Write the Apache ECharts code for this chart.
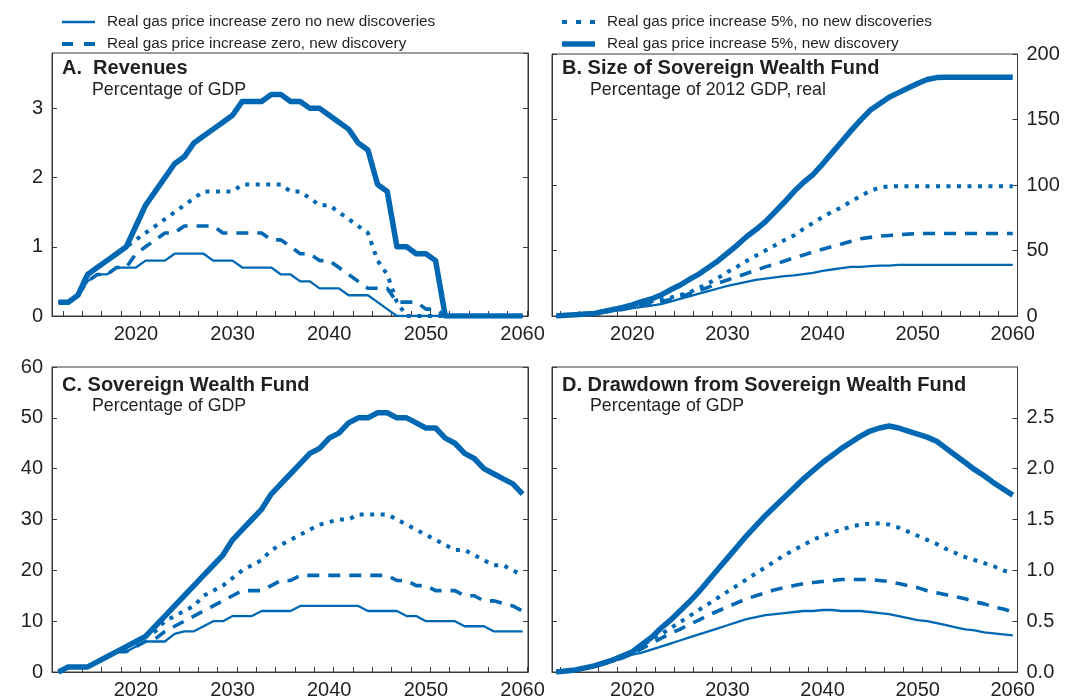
<!DOCTYPE html>
<html><head><meta charset="utf-8">
<script src="https://cdn.jsdelivr.net/npm/echarts@6/dist/echarts.min.js"></script>
<style>html,body{margin:0;padding:0;background:#fff}#c{width:1073px;height:700px}</style>
</head><body><div id="c"></div>
<script>
const years = [2012,2013,2014,2015,2016,2017,2018,2019,2020,2021,2022,2023,2024,2025,2026,2027,2028,2029,2030,2031,2032,2033,2034,2035,2036,2037,2038,2039,2040,2041,2042,2043,2044,2045,2046,2047,2048,2049,2050,2051,2052,2053,2054,2055,2056,2057,2058,2059,2060];
const xLabelYears = [2020,2030,2040,2050,2060];
const seriesNames = [
  'Real gas price increase zero no new discoveries',
  'Real gas price increase zero, new discovery',
  'Real gas price increase 5%, no new discoveries',
  'Real gas price increase 5%, new discovery'
];
const panelTitles = ['A.  Revenues','B. Size of Sovereign Wealth Fund','C. Sovereign Wealth Fund','D. Drawdown from Sovereign Wealth Fund'];
const panelSubtitles = ['Percentage of GDP','Percentage of 2012 GDP, real','Percentage of GDP','Percentage of GDP'];

// Panel A: Revenues, % of GDP
const revZeroNoNew = [0.2,0.2,0.3,0.5,0.6,0.6,0.7,0.7,0.7,0.8, 0.8,0.8,0.9,0.9,0.9,0.9,0.8,0.8,0.8,0.7, 0.7,0.7,0.7,0.6,0.6,0.5,0.5,0.4,0.4,0.4, 0.3,0.3,0.3,0.2,0.1,0,0,0,0,0, 0,0,0,0,0,0,0,0,0];
const revZeroNew   = [0.2,0.2,0.3,0.5,0.6,0.6,0.7,0.7,0.9,1.0, 1.1,1.2,1.2,1.3,1.3,1.3,1.3,1.2,1.2,1.2, 1.2,1.2,1.1,1.1,1.0,0.9,0.9,0.8,0.8,0.7, 0.6,0.5,0.4,0.4,0.4,0.2,0.2,0.2,0.1,0.1, 0,0,0,0,0,0,0,0,0];
const rev5NoNew    = [0.2,0.2,0.3,0.6,0.7,0.8,0.9,1.0,1.1,1.2, 1.3,1.4,1.5,1.6,1.7,1.8,1.8,1.8,1.8,1.9, 1.9,1.9,1.9,1.9,1.8,1.8,1.7,1.6,1.6,1.5, 1.4,1.3,1.2,0.8,0.6,0.2,0,0,0,0, 0,0,0,0,0,0,0,0,0];
const rev5New      = [0.2,0.2,0.3,0.6,0.7,0.8,0.9,1.0,1.3,1.6, 1.8,2.0,2.2,2.3,2.5,2.6,2.7,2.8,2.9,3.1, 3.1,3.1,3.2,3.2,3.1,3.1,3.0,3.0,2.9,2.8, 2.7,2.5,2.4,1.9,1.8,1.0,1.0,0.9,0.9,0.8, 0,0,0,0,0,0,0,0,0];

// Panel B: Size of SWF, % of 2012 GDP, real
const sizeZeroNoNew = [0,0.5,1,1.5,2,3,4,5,6,7, 8,9,11,13,15,17,19,21,23,24.5, 26,27.5,28.5,29.5,30.5,31,32,33,34.5,35.5, 36.5,37.5,37.5,38,38.5,38.5,39,39,39,39, 39,39,39,39,39,39,39,39,39];
const sizeZeroNew   = [0,0.5,1,1.5,2,3,4,5,6.5,8, 9.5,11,12.5,14.5,17,19.5,22,25,27.5,30, 32.5,35,37.5,39.5,42,44.5,46.5,49,51,53, 55,57,59,60,61,61.5,62,62.5,63,63, 63,63,63,63,63,63,63,63,63];
const size5NoNew    = [0,0.5,1,1.5,2,3.5,5,6.5,8,9.5, 11,12.5,14,16,18,21.5,25,29,33.5,37.5, 42,46,50,54,58,61.5,66.5,71,75.5,79.5, 83,87.5,91.5,95.5,98,99,99,99,99,99, 99,99,99,99,99,99,99,99,99];
const size5New      = [0,0.5,1,1.5,2,3.5,5,6.5,8.5,11, 13,16,20,23.5,28,32,37,42,48,54, 60.5,66,72,79.5,87,95,102,108,116,124.5, 133,141.5,149.5,157,162,167,170.5,174,177.5,180.5, 182,182.3,182.3,182.3,182.3,182.3,182.3,182.3,182.3];

// Panel C: SWF, % of GDP
const swfZeroNoNew = [0,1,1,1,2,3,4,4,5,6, 6,6,7.5,8,8,9,10,10,11,11, 11,12,12,12,12,13,13,13,13,13, 13,13,12,12,12,12,11,11,10,10, 10,10,9,9,9,8,8,8,8];
const swfZeroNew   = [0,1,1,1,2,3,4,4,5,6, 6.5,8,9,10,11,12,13,14,15,16, 16,16,17,18,18,19,19,19,19,19, 19,19,19,19,19,18,18,17,17,16, 16,16,15,15,14,14,13.5,13,12];
const swf5NoNew    = [0,1,1,1,2,3,4,5,6,7, 8,10,11,12,13,15,16,17,18.5,20, 21,22,24,25,26,27,28,29,29.5,30, 30,31,31,31,31,30,29,28,27,26, 25,24,24,23,22,21,21,20,19];
const swf5New      = [0,1,1,1,2,3,4,5,6,7, 9,11,13,15,17,19,21,23,26,28, 30,32,35,37,39,41,43,44,46,47, 49,50,50,51,51,50,50,49,48,48, 46,45,43,42,40,39,38,37,35];

// Panel D: Drawdown from SWF, % of GDP
const drawZeroNoNew = [0,0.01,0.02,0.04,0.06,0.08,0.11,0.14,0.17,0.19, 0.22,0.25,0.28,0.31,0.34,0.37,0.4,0.43,0.46,0.49, 0.52,0.54,0.56,0.57,0.58,0.59,0.6,0.6,0.61,0.61, 0.6,0.6,0.6,0.59,0.58,0.57,0.55,0.53,0.51,0.5, 0.48,0.46,0.44,0.42,0.41,0.39,0.38,0.37,0.36];
const drawZeroNew   = [0,0.01,0.02,0.04,0.06,0.08,0.11,0.14,0.18,0.23, 0.28,0.33,0.38,0.42,0.47,0.51,0.56,0.6,0.64,0.68, 0.72,0.75,0.78,0.81,0.83,0.85,0.87,0.88,0.89,0.9, 0.91,0.91,0.91,0.91,0.9,0.89,0.87,0.85,0.83,0.8, 0.78,0.76,0.74,0.72,0.69,0.67,0.64,0.62,0.59];
const draw5NoNew    = [0,0.01,0.02,0.04,0.06,0.09,0.12,0.16,0.2,0.26, 0.32,0.37,0.43,0.49,0.55,0.61,0.67,0.73,0.79,0.85, 0.91,0.97,1.03,1.09,1.15,1.2,1.25,1.3,1.34,1.37, 1.4,1.43,1.45,1.46,1.46,1.45,1.42,1.38,1.34,1.3, 1.26,1.21,1.17,1.13,1.1,1.07,1.04,1.0,0.97];
const draw5New      = [0,0.01,0.02,0.04,0.06,0.09,0.12,0.16,0.2,0.27, 0.34,0.43,0.51,0.6,0.69,0.79,0.9,1.01,1.12,1.23, 1.34,1.44,1.54,1.63,1.72,1.81,1.9,1.98,2.06,2.13, 2.2,2.26,2.32,2.37,2.4,2.42,2.4,2.37,2.34,2.31, 2.27,2.2,2.13,2.06,1.99,1.93,1.86,1.8,1.74];

const panelData = [
  [revZeroNoNew, revZeroNew, rev5NoNew, rev5New],
  [sizeZeroNoNew, sizeZeroNew, size5NoNew, size5New],
  [swfZeroNoNew, swfZeroNew, swf5NoNew, swf5New],
  [drawZeroNoNew, drawZeroNew, draw5NoNew, draw5New]
];

const BLUE = '#0068b3';
const INK = '#231f20';
const FRAME = '#3a3a3a';
const FONT = '"Liberation Sans", Arial, Helvetica, sans-serif';

const lineStyles = [
  {color: BLUE, width: 2.3, type: 'solid'},
  {color: BLUE, width: 3.6, type: [12, 9], cap: 'butt'},
  {color: BLUE, width: 4, type: [4, 6.5], cap: 'butt'},
  {color: BLUE, width: 5.5, type: 'solid', join: 'round'}
];
const legendIcons = [
  {icon: 'rect', h: 2.5},
  {icon: 'path://M0,0h11v4h-11z M22,0h11v4h-11z', h: 4},
  {icon: 'path://M0,0h5v4h-5z M14,0h5v4h-5z M28,0h5v4h-5z', h: 4},
  {icon: 'rect', h: 5.5}
];

const grids = [
  {left: 52, top: 53, width: 476, height: 263},
  {left: 552, top: 54, width: 465.5, height: 262},
  {left: 52, top: 367, width: 476, height: 307},
  {left: 552, top: 367, width: 465.5, height: 307}
];
const xRanges = [[2011.32, 2060.56], [2011.55, 2060.5], [2011.32, 2060.56], [2011.55, 2060.5]];
const yCfg = [
  {max: 3.8, interval: 1, side: 'left', hideMax: true, fmt: v => String(v)},
  {max: 200, interval: 50, side: 'right', hideMax: false, fmt: v => String(v)},
  {max: 60, interval: 10, side: 'left', hideMax: false, fmt: v => String(v)},
  {max: 3, interval: 0.5, side: 'right', hideMax: true, fmt: v => v.toFixed(1)}
];
const xTickVals = [2012.45,2014.45,2016.45,2018.45,2020.45,2022.45,2024.45,2026.45,2028.45,2030.45,2032.45,2034.45,2036.45,2038.45,2040.45,2042.45,2044.45,2046.45,2048.45,2050.45,2052.45,2054.45,2056.45,2058.45,2060.45];

const titleXY = [[62, 70, 92, 91], [562, 70, 590, 91], [62, 387, 92, 407], [562, 387, 590, 407]];

const option = {
  animation: false,
  backgroundColor: '#fff',
  textStyle: {fontFamily: FONT},
  grid: grids.map(g => Object.assign({show: true, borderColor: FRAME, borderWidth: 1, containLabel: false}, g)),
  xAxis: grids.map((g, i) => ({
    type: 'value', gridIndex: i, min: xRanges[i][0], max: xRanges[i][1], position: 'bottom',
    axisLine: {show: true, lineStyle: {color: FRAME, width: 1}},
    axisTick: {show: true, inside: true, length: 5, customValues: xTickVals, lineStyle: {color: FRAME}},
    axisLabel: {show: true, customValues: xLabelYears, fontSize: 20, color: INK, margin: 8, fontFamily: FONT, formatter: v => String(v)},
    splitLine: {show: false}
  })),
  yAxis: [],
  legend: [],
  series: [],
  graphic: []
};

grids.forEach((g, i) => {
  ['left', 'right'].forEach(pos => {
    const c = yCfg[i];
    option.yAxis.push({
      type: 'value', gridIndex: i, position: pos, min: 0, max: c.max, interval: c.interval,
      axisLine: {show: true, lineStyle: {color: FRAME, width: 1}},
      axisTick: {show: true, inside: true, length: 5, lineStyle: {color: FRAME}},
      axisLabel: {show: pos === c.side, fontSize: 20, color: INK, margin: 9, fontFamily: FONT,
        showMaxLabel: !c.hideMax, formatter: c.fmt},
      splitLine: {show: false}
    });
  });
  panelData[i].forEach((arr, s) => {
    option.series.push({
      type: 'line', name: seriesNames[s], xAxisIndex: i, yAxisIndex: i * 2,
      data: years.map((y, k) => [y, arr[k]]),
      symbol: 'none', showSymbol: false, silent: true, z: 2 + s,
      itemStyle: {color: BLUE},
      lineStyle: lineStyles[s]
    });
  });
  const t = titleXY[i];
  option.graphic.push({type: 'text', left: t[0], top: t[1] - 12, silent: true,
    style: {text: panelTitles[i], fill: INK, font: 'bold 20px ' + FONT}});
  option.graphic.push({type: 'text', left: t[2], top: t[3] - 10, silent: true,
    style: {text: panelSubtitles[i], fill: INK, font: '17.8px ' + FONT}});
});

const legendPos = [[62, 13], [62, 35], [562, 13], [562, 35]];
seriesNames.forEach((n, s) => {
  option.legend.push({
    data: [{name: n, icon: legendIcons[s].icon}], left: legendPos[s][0], top: legendPos[s][1], padding: 0,
    itemWidth: 33, itemHeight: legendIcons[s].h, selectedMode: false,
    itemStyle: {color: BLUE, borderWidth: 0},
    lineStyle: {width: 0, opacity: 0},
    textStyle: {fontSize: 15.3, color: INK, fontFamily: FONT, padding: [0, 0, 0, 7], lineHeight: 18}
  });
});

const chart = echarts.init(document.getElementById('c'), null, {renderer: 'canvas'});
chart.setOption(option);
</script>
</body></html>
